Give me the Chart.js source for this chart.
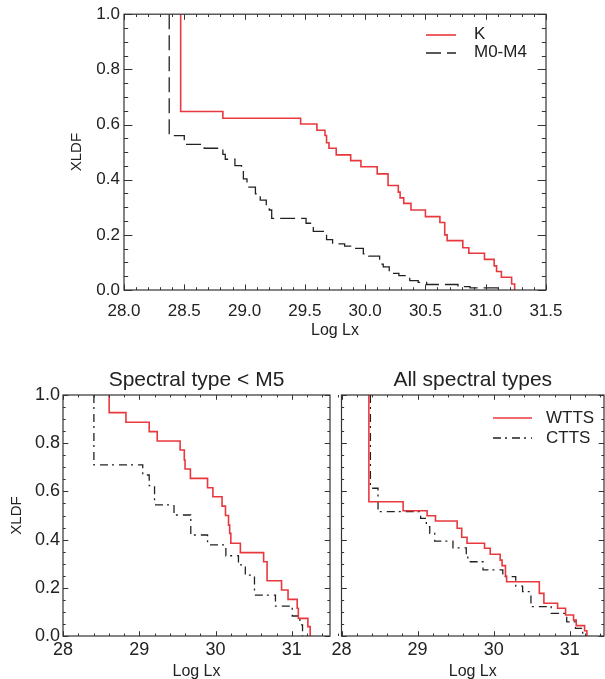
<!DOCTYPE html>
<html>
<head>
<meta charset="utf-8">
<script src="https://cdn.jsdelivr.net/npm/chart.js@4.4.1/dist/chart.umd.min.js"></script>
<style>
html,body{margin:0;padding:0;background:#fff;width:605px;height:679px;overflow:hidden;position:relative}
canvas{position:absolute;display:block}
</style>
</head>
<body>
<canvas id="cTop" width="605" height="345" style="left:0;top:0;width:605px;height:345px"></canvas>
<canvas id="cBL" width="341" height="345" style="left:0;top:345px;width:341px;height:345px"></canvas>
<canvas id="cBR" width="305" height="345" style="left:300px;top:345px;width:305px;height:345px"></canvas>
<script>
// ---------- data ----------
// Top panel: K and M0-M4
const kX   = [28.47, 28.47, 28.82, 29.465, 29.60, 29.667, 29.68, 29.70, 29.76, 29.88, 29.965, 30.10, 30.19, 30.275, 30.29, 30.32, 30.38, 30.50, 30.62, 30.66, 30.68, 30.81, 30.86, 30.99, 31.07, 31.09, 31.13, 31.215, 31.24];
const kY   = [1.0, 0.647, 0.623, 0.602, 0.579, 0.56, 0.534, 0.514, 0.49, 0.469, 0.447, 0.421, 0.379, 0.355, 0.334, 0.314, 0.29, 0.266, 0.245, 0.20, 0.179, 0.153, 0.133, 0.111, 0.0875, 0.067, 0.046, 0.022, 0.0];
const mX   = [28.375, 28.375, 28.50, 28.665, 28.82, 28.84, 28.92, 28.975, 28.99, 29.02, 29.09, 29.13, 29.18, 29.205, 29.225, 29.51, 29.57, 29.68, 29.73, 29.83, 29.90, 29.985, 30.03, 30.12, 30.15, 30.20, 30.28, 30.37, 30.44, 30.51, 30.77, 30.87, 31.10];
const mY   = [1.0, 0.56, 0.528, 0.514, 0.492, 0.474, 0.451, 0.433, 0.403, 0.373, 0.349, 0.326, 0.31, 0.29, 0.26, 0.242, 0.2125, 0.183, 0.167, 0.159, 0.151, 0.131, 0.123, 0.094, 0.084, 0.06, 0.052, 0.034, 0.028, 0.02, 0.0125, 0.008, 0.0];
// Bottom-left: Spectral type < M5
const wL_X = [28.605, 28.605, 28.825, 29.13, 29.235, 29.535, 29.59, 29.60, 29.67, 29.895, 29.965, 30.085, 30.13, 30.17, 30.185, 30.20, 30.325, 30.63, 30.675, 30.865, 30.95, 31.07, 31.085, 31.21, 31.24];
const wL_Y = [1.0, 0.927, 0.887, 0.848, 0.809, 0.772, 0.73, 0.693, 0.654, 0.615, 0.578, 0.539, 0.50, 0.46, 0.426, 0.385, 0.346, 0.308, 0.229, 0.191, 0.152, 0.115, 0.073, 0.039, 0.0];
const cL_X = [28.405, 28.405, 29.045, 29.13, 29.20, 29.455, 29.675, 29.895, 30.135, 30.30, 30.39, 30.51, 30.785, 31.005, 31.105, 31.14];
const cL_Y = [1.0, 0.71, 0.668, 0.624, 0.544, 0.502, 0.419, 0.378, 0.333, 0.295, 0.253, 0.17, 0.124, 0.083, 0.046, 0.0];
// Bottom-right: All spectral types
const wR_X = [28.36, 28.36, 28.81, 29.125, 29.235, 29.52, 29.58, 29.65, 29.88, 29.955, 30.085, 30.11, 30.155, 30.17, 30.60, 30.66, 30.84, 30.945, 31.05, 31.085, 31.195, 31.225];
const wR_Y = [1.0, 0.557, 0.52, 0.499, 0.477, 0.447, 0.41, 0.385, 0.364, 0.339, 0.315, 0.292, 0.249, 0.225, 0.177, 0.136, 0.115, 0.087, 0.066, 0.043, 0.022, 0.0];
const cR_X = [28.38, 28.38, 28.48, 29.04, 29.115, 29.16, 29.225, 29.465, 29.64, 29.66, 29.86, 30.12, 30.29, 30.38, 30.49, 30.755, 30.96, 31.075, 31.17];
const cR_Y = [1.0, 0.613, 0.516, 0.488, 0.454, 0.426, 0.394, 0.366, 0.336, 0.308, 0.274, 0.246, 0.207, 0.184, 0.122, 0.094, 0.059, 0.032, 0.0];

const topLabels   = ['K', 'M0-M4'];
const botLabels   = ['WTTS', 'CTTS'];
const titleLeft   = 'Spectral type < M5';
const titleRight  = 'All spectral types';
const xTitle      = 'Log Lx';
const yTitle      = 'XLDF';

// ---------- styling ----------
const RED = '#e8383d';
const BLK = '#222222';
const DASH = [15, 6];
const DASHDOT = [8, 4, 2, 5];
const FONT = "'Liberation Sans', Arial, Helvetica, sans-serif";
Chart.defaults.font.family = FONT;
Chart.defaults.color = '#222';

const pts = (xs, ys) => xs.map((x, i) => ({x: x, y: ys[i]}));

const idlFrame = {
  id: 'idlFrame',
  afterDraw(chart, args, o) {
    const {ctx, chartArea: a, scales: {x, y}} = chart;
    ctx.save();
    ctx.strokeStyle = '#333';
    ctx.lineWidth = 1.2;
    ctx.setLineDash([]);
    ctx.strokeRect(a.left, a.top, a.right - a.left, a.bottom - a.top);
    ctx.lineWidth = 1;
    ctx.beginPath();
    const nx = Math.round((x.max - x.min) / o.xMinor);
    for (let i = 0; i <= nx; i++) {
      const v = x.min + i * o.xMinor;
      const r = v / o.xMajor;
      const major = Math.abs(r - Math.round(r)) < 1e-6;
      const L = major ? o.xLen : o.xLen / 2;
      const p = Math.round(x.getPixelForValue(v)) + 0.5;
      ctx.moveTo(p, a.bottom); ctx.lineTo(p, a.bottom - L);
      ctx.moveTo(p, a.top); ctx.lineTo(p, a.top + L);
    }
    const ny = Math.round((y.max - y.min) / o.yMinor);
    for (let i = 0; i <= ny; i++) {
      const v = y.min + i * o.yMinor;
      const r = v / o.yMajor;
      const major = Math.abs(r - Math.round(r)) < 1e-6;
      const L = major ? o.yLen : o.yLen / 2;
      const p = Math.round(y.getPixelForValue(v)) + 0.5;
      ctx.moveTo(a.left, p); ctx.lineTo(a.left + L, p);
      ctx.moveTo(a.right, p); ctx.lineTo(a.right - L, p);
    }
    ctx.stroke();
    ctx.restore();
  }
};

const idlLegend = {
  id: 'idlLegend',
  afterDraw(chart, args, o) {
    if (!o.items) return;
    const ctx = chart.ctx;
    ctx.save();
    ctx.font = o.fontSize + 'px ' + FONT;
    ctx.textBaseline = 'middle';
    ctx.textAlign = 'left';
    o.items.forEach(it => {
      ctx.strokeStyle = it.color;
      ctx.lineWidth = it.width;
      ctx.setLineDash(it.dash);
      ctx.beginPath();
      ctx.moveTo(o.x0, it.ly); ctx.lineTo(o.x1, it.ly);
      ctx.stroke();
      ctx.fillStyle = '#222';
      ctx.fillText(it.text, o.tx, it.ty);
    });
    ctx.restore();
  }
};

function ds(label, data, color, width, dash) {
  return {label, data, borderColor: color, borderWidth: width, borderDash: dash,
          stepped: 'before', pointRadius: 0, fill: false, tension: 0};
}

const noGrid = {display: false, drawTicks: false, tickLength: 0};

// ---------- top chart ----------
new Chart(document.getElementById('cTop'), {
  type: 'line',
  data: {datasets: [
    ds(topLabels[0], pts(kX, kY), RED, 1.6, []),
    ds(topLabels[1], pts(mX, mY), BLK, 1.3, DASH)
  ]},
  options: {
    responsive: false, animation: false, events: [],
    layout: {padding: {left: 0, right: 59, top: 9, bottom: 0}},
    plugins: {
      legend: {display: false}, tooltip: {enabled: false},
      idlFrame: {xMinor: 0.1, xMajor: 0.5, yMinor: 0.05, yMajor: 0.2, xLen: 5.6, yLen: 8.4},
      idlLegend: {fontSize: 17, x0: 426, x1: 456, tx: 474, items: [
        {text: topLabels[0], color: RED, width: 1.6, dash: [], ly: 35, ty: 34},
        {text: topLabels[1], color: BLK, width: 1.3, dash: DASH, ly: 53, ty: 52}
      ]}
    },
    scales: {
      x: {type: 'linear', min: 28, max: 31.5,
          afterFit: s => { s.height = 55; },
          grid: noGrid, border: {display: false},
          ticks: {stepSize: 0.5, padding: 11, maxRotation: 0, autoSkip: false, includeBounds: false,
                  font: {size: 17}, callback: v => Number(v).toFixed(1)},
          title: {display: true, text: xTitle, font: {size: 16}, padding: {top: 0, bottom: 5}}},
      y: {type: 'linear', min: 0, max: 1,
          afterFit: s => { s.width = 124; },
          grid: noGrid, border: {display: false},
          ticks: {stepSize: 0.2, padding: 4, autoSkip: false, font: {size: 17},
                  callback: v => Number(v).toFixed(1)},
          title: {display: true, text: yTitle, font: {size: 15}, padding: {top: 68, bottom: 0}}}
    }
  },
  plugins: [idlFrame, idlLegend]
});

// ---------- bottom charts ----------
function bottomChart(id, title, wData, cData, opts) {
  return new Chart(document.getElementById(id), {
    type: 'line',
    data: {datasets: [
      ds(botLabels[0], wData, RED, 1.6, []),
      ds(botLabels[1], cData, BLK, 1.3, DASHDOT)
    ]},
    options: {
      responsive: false, animation: false, events: [],
      layout: {padding: {left: 0, right: opts.padRight, top: 0, bottom: 0}},
      plugins: {
        legend: {display: false}, tooltip: {enabled: false},
        title: {display: true, text: title, fullSize: false, color: '#222',
                font: {size: 21, weight: 'normal'}, padding: {top: 22.4, bottom: 2.4}},
        idlFrame: {xMinor: 0.2, xMajor: 1, yMinor: 0.05, yMajor: 0.2, xLen: 4.8, yLen: 5.3},
        idlLegend: opts.legend
      },
      scales: {
        x: {type: 'linear', min: 28, max: opts.xMax,
            afterFit: s => { s.height = 54; },
            grid: noGrid, border: {display: false},
            ticks: {stepSize: 1, padding: 3, maxRotation: 0, autoSkip: false, includeBounds: false,
                    font: {size: 18}, callback: v => Number(v).toFixed(0)},
            title: {display: true, text: xTitle, font: {size: 16}, padding: {top: 0, bottom: 8.7}}},
        y: {type: 'linear', min: 0, max: 1,
            afterFit: s => { s.width = opts.yWidth; },
            grid: noGrid, border: {display: false},
            ticks: {display: opts.yLabels, stepSize: 0.2, padding: 3, autoSkip: false, font: {size: 18},
                    callback: v => Number(v).toFixed(1)},
            title: {display: opts.yLabels, text: yTitle, font: {size: 15}, padding: {top: 7.7, bottom: 0}}}
      }
    },
    plugins: [idlFrame, idlLegend]
  });
}

bottomChart('cBL', titleLeft, pts(wL_X, wL_Y), pts(cL_X, cL_Y),
  {padRight: 11, xMax: 31.5, yWidth: 63, yLabels: true, legend: {}});

bottomChart('cBR', titleRight, pts(wR_X, wR_Y), pts(cR_X, cR_Y),
  {padRight: 1, xMax: 31.45, yWidth: 41.5, yLabels: false,
   legend: {fontSize: 17, x0: 193, x1: 232, tx: 246, items: [
     {text: botLabels[0], color: RED, width: 1.6, dash: [], ly: 73, ty: 73},
     {text: botLabels[1], color: BLK, width: 1.3, dash: DASHDOT, ly: 93, ty: 93}
   ]}});
</script>
</body>
</html>
